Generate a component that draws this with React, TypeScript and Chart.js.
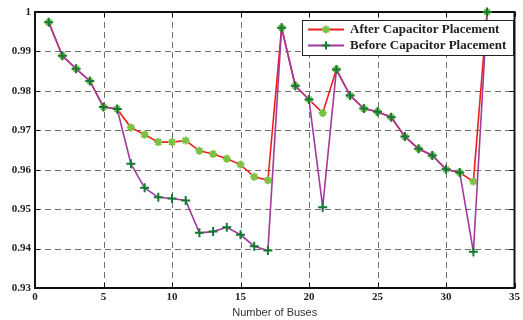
import React, { useEffect, useRef } from "react";
import { Chart, registerables } from "chart.js";

Chart.register(...registerables);

const buses = [1,2,3,4,5,6,7,8,9,10,11,12,13,14,15,16,17,18,19,20,21,22,23,24,25,26,27,28,29,30,31,32,33];
const afterPlacement = [0.9974, 0.9889, 0.9856, 0.9825, 0.9759, 0.9754, 0.9707, 0.9689, 0.9670, 0.9670, 0.9674, 0.9648, 0.9640, 0.9628, 0.9613, 0.9582, 0.9573, 0.9960, 0.9813, 0.9778, 0.9744, 0.9854, 0.9788, 0.9755, 0.9747, 0.9733, 0.9684, 0.9653, 0.9636, 0.9601, 0.9593, 0.9570, 1.0000];
const beforePlacement = [0.9974, 0.9889, 0.9856, 0.9825, 0.9759, 0.9754, 0.9615, 0.9554, 0.9530, 0.9527, 0.9522, 0.9440, 0.9443, 0.9454, 0.9435, 0.9406, 0.9395, 0.9960, 0.9813, 0.9778, 0.9505, 0.9854, 0.9788, 0.9755, 0.9747, 0.9733, 0.9684, 0.9653, 0.9636, 0.9601, 0.9593, 0.9392, 1.0000];
const xTicks = [0, 5, 10, 15, 20, 25, 30, 35];
const yTicks = [0.93, 0.94, 0.95, 0.96, 0.97, 0.98, 0.99, 1.0];
const seriesNames = ["After Capacitor Placement", "Before Capacitor Placement"];

const RED = "#f01c1c";
const PURPLE = "#a23a9c";
const LIGHTGREEN = "#7cc242";
const DARKGREEN = "#137a34";

const framePlugin = {
  id: "frame",
  beforeDatasetsDraw(chart: any) {
    const { ctx, chartArea: a, scales } = chart;
    const xs = scales.x, ys = scales.y;
    ctx.save();
    ctx.strokeStyle = "#707070";
    ctx.lineWidth = 1;
    ctx.setLineDash([6, 4]);
    xTicks.slice(1, -1).forEach((t) => {
      const px = Math.round(xs.getPixelForValue(t)) + 0.5;
      ctx.beginPath(); ctx.moveTo(px, a.top); ctx.lineTo(px, a.bottom); ctx.stroke();
    });
    yTicks.slice(1, -1).forEach((t) => {
      const py = Math.round(ys.getPixelForValue(t)) + 0.5;
      ctx.beginPath(); ctx.moveTo(a.left, py); ctx.lineTo(a.right, py); ctx.stroke();
    });
    ctx.setLineDash([]);
    ctx.strokeStyle = "#111";
    ctx.lineWidth = 1;
    xTicks.forEach((t) => {
      const px = Math.round(xs.getPixelForValue(t)) + 0.5;
      ctx.beginPath(); ctx.moveTo(px, a.top); ctx.lineTo(px, a.top + 5); ctx.stroke();
      ctx.beginPath(); ctx.moveTo(px, a.bottom); ctx.lineTo(px, a.bottom - 5); ctx.stroke();
    });
    yTicks.forEach((t) => {
      const py = Math.round(ys.getPixelForValue(t)) + 0.5;
      ctx.beginPath(); ctx.moveTo(a.left, py); ctx.lineTo(a.left + 5, py); ctx.stroke();
      ctx.beginPath(); ctx.moveTo(a.right, py); ctx.lineTo(a.right - 5, py); ctx.stroke();
    });
    ctx.lineWidth = 2;
    ctx.strokeRect(a.left, a.top, a.right - a.left, a.bottom - a.top);
    ctx.restore();
  },
  afterDraw(chart: any) {
    const { ctx } = chart;
    const lx = 302, ly = 20, lw = 211, lh = 35;
    ctx.save();
    ctx.fillStyle = "#fff";
    ctx.fillRect(lx, ly, lw, lh);
    ctx.strokeStyle = "#222";
    ctx.lineWidth = 1;
    ctx.strokeRect(lx + 0.5, ly + 0.5, lw, lh);
    const rows = [
      { name: seriesNames[0], color: RED, mk: LIGHTGREEN, y: 29.5, star: true },
      { name: seriesNames[1], color: PURPLE, mk: DARKGREEN, y: 45.5, star: false },
    ];
    rows.forEach((r) => {
      ctx.strokeStyle = r.color;
      ctx.lineWidth = 2;
      ctx.beginPath(); ctx.moveTo(308, r.y); ctx.lineTo(344, r.y); ctx.stroke();
      ctx.strokeStyle = r.mk;
      ctx.lineWidth = 2;
      const cx = 326, s = 4;
      ctx.beginPath();
      ctx.moveTo(cx - s, r.y); ctx.lineTo(cx + s, r.y);
      ctx.moveTo(cx, r.y - s); ctx.lineTo(cx, r.y + s);
      if (r.star) {
        const d = s * 0.7;
        ctx.moveTo(cx - d, r.y - d); ctx.lineTo(cx + d, r.y + d);
        ctx.moveTo(cx - d, r.y + d); ctx.lineTo(cx + d, r.y - d);
      }
      ctx.stroke();
      ctx.fillStyle = "#222";
      ctx.font = "bold 13px 'Liberation Serif'";
      ctx.textBaseline = "middle";
      ctx.textAlign = "left";
      ctx.fillText(r.name, 350, r.y + 0.5);
    });
    ctx.restore();
  },
};

export default function App() {
  const ref = useRef<HTMLCanvasElement | null>(null);
  useEffect(() => {
    document.body.style.margin = "0";
    const canvas = ref.current!;
    const tickFont = { family: "'Liberation Serif'", size: 11, weight: "bold" as const };
    const chart = new Chart(canvas, {
      type: "line",
      data: {
        datasets: [
          {
            label: seriesNames[0],
            data: buses.map((b, i) => ({ x: b, y: afterPlacement[i] })),
            borderColor: RED,
            borderWidth: 1.6,
            pointStyle: "star",
            pointRadius: 4,
            pointBorderWidth: 2,
            pointBorderColor: LIGHTGREEN,
            pointBackgroundColor: LIGHTGREEN,
            clip: false as any,
            order: 2,
          },
          {
            label: seriesNames[1],
            data: buses.map((b, i) => ({ x: b, y: beforePlacement[i] })),
            borderColor: PURPLE,
            borderWidth: 1.6,
            pointStyle: "cross",
            pointRadius: 4.5,
            pointBorderWidth: 2,
            pointBorderColor: DARKGREEN,
            pointBackgroundColor: DARKGREEN,
            clip: false as any,
            order: 1,
          },
        ],
      },
      options: {
        animation: false,
        responsive: false,
        layout: { padding: { top: 12, right: 7, left: 0, bottom: 0 } },
        plugins: { legend: { display: false }, tooltip: { enabled: false } },
        scales: {
          x: {
            type: "linear",
            min: 0,
            max: 35,
            grid: { display: false, drawTicks: false },
            border: { display: false },
            afterBuildTicks: (s: any) => { s.ticks = xTicks.map((v) => ({ value: v })); },
            ticks: { font: tickFont, color: "#222", padding: 3, maxRotation: 0, callback: (v: any) => String(v) },
            title: {
              display: true,
              text: "Number of Buses",
              font: { family: "'Liberation Sans'", size: 11 },
              color: "#333",
              padding: { top: 1, bottom: 0 },
            },
            afterFit: (s: any) => { s.height = 32; },
          },
          y: {
            type: "linear",
            min: 0.93,
            max: 1.0,
            grid: { display: false, drawTicks: false },
            border: { display: false },
            afterBuildTicks: (s: any) => { s.ticks = yTicks.map((v) => ({ value: v })); },
            ticks: {
              font: tickFont,
              color: "#222",
              padding: 4,
              callback: (v: any) => (Math.abs(v - 1) < 1e-9 ? "1" : Number(v).toFixed(2)),
            },
            afterFit: (s: any) => { s.width = 35; },
          },
        },
      },
      plugins: [framePlugin],
    });
    return () => chart.destroy();
  }, []);
  return <canvas ref={ref} width={523} height={320} style={{ display: "block" }} />;
}
